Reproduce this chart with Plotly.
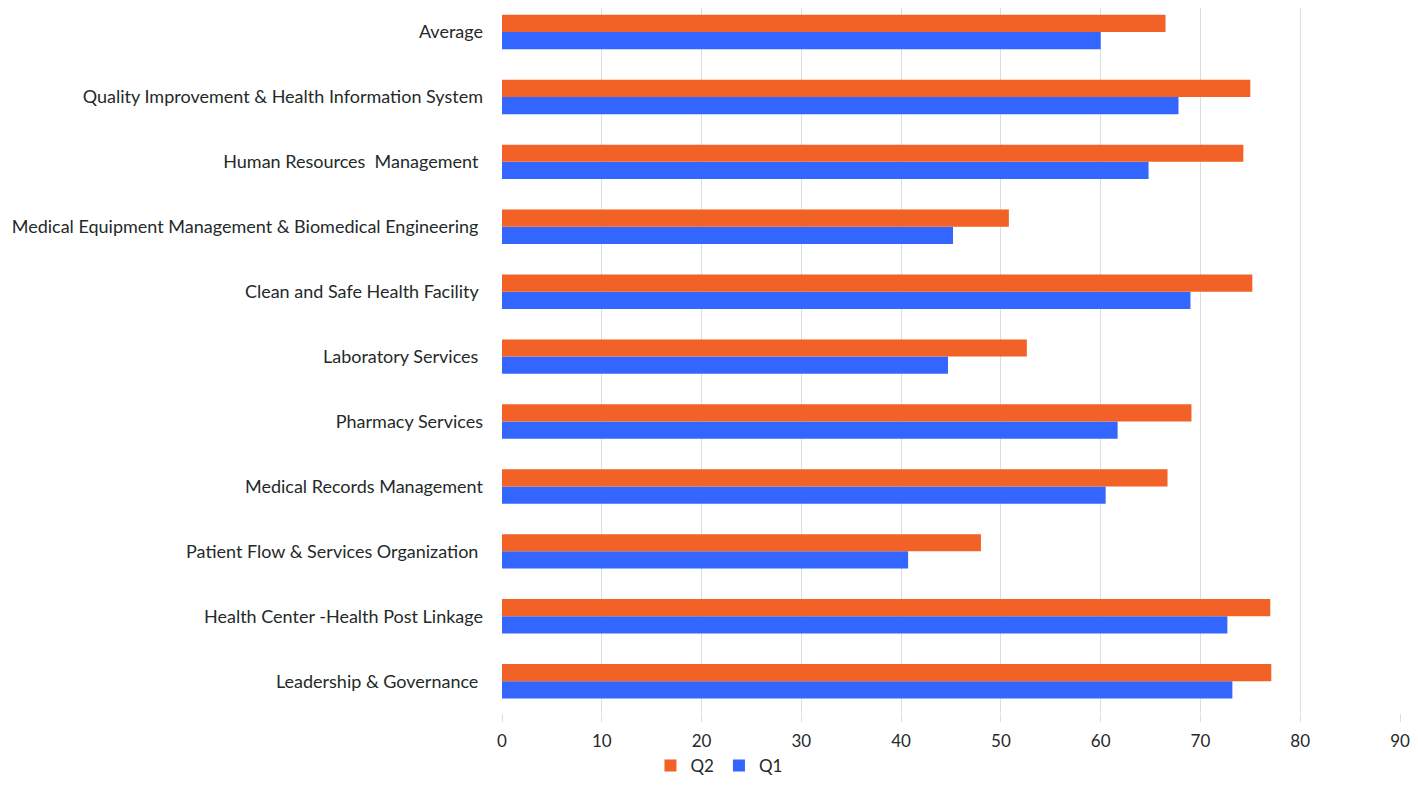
import plotly.graph_objects as go

# categories listed bottom -> top
categories = [
    "Leadership & Governance ",
    "Health Center -Health Post Linkage",
    "Patient Flow & Services Organization ",
    "Medical Records Management",
    "Pharmacy Services",
    "Laboratory Services ",
    "Clean and Safe Health Facility ",
    "Medical Equipment Management & Biomedical Engineering ",
    "Human Resources  Management ",
    "Quality Improvement & Health Information System",
    "Average",
]
q1 = [73.2, 72.7, 40.7, 60.5, 61.7, 44.7, 69.0, 45.2, 64.8, 67.8, 60.0]
q2 = [77.1, 77.0, 48.0, 66.7, 69.1, 52.6, 75.2, 50.8, 74.3, 75.0, 66.5]
x_ticks = list(range(0, 91, 10))

fig = go.Figure()
fig.add_trace(go.Bar(y=categories, x=q1, orientation="h", name="Q1",
                     marker=dict(color="#3366FF", line=dict(width=0))))
fig.add_trace(go.Bar(y=categories, x=q2, orientation="h", name="Q2",
                     marker=dict(color="#F26125", line=dict(width=0))))

# page body adds an 8px margin all round, keep the figure inside the window
fig.update_layout(
    barmode="group",
    bargap=0.47,
    bargroupgap=0,
    width=1402, height=770,
    margin=dict(l=494, r=10, t=0, b=65, autoexpand=False),
    plot_bgcolor="white",
    paper_bgcolor="white",
    font=dict(family="Lato, sans-serif", size=17, color="#1f2a2a"),
    legend=dict(orientation="h", traceorder="reversed",
                x=0.2416, xanchor="center", y=-0.075, yanchor="middle",
                font=dict(size=17), itemwidth=30),
)
fig.update_xaxes(range=[0, 90], tickvals=x_ticks, showgrid=True,
                 gridcolor="#d6e0e0", gridwidth=1, zeroline=False,
                 showline=False, ticks="outside", ticklen=8,
                 tickcolor="#d6e0e0", ticklabelstandoff=5,
                 ticklabeloverflow="allow", automargin=False)
fig.update_yaxes(range=[-0.49, 10.37], showgrid=False, ticks="",
                 ticklabelstandoff=18, automargin=False,
                 tickfont=dict(size=18))

fig.write_html("out.html")
